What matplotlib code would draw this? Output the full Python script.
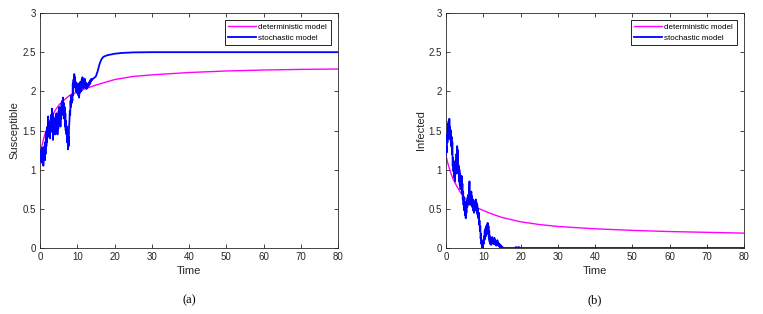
import numpy as np
import matplotlib
matplotlib.use("Agg")
import matplotlib.pyplot as plt

plt.rcParams['font.family'] = ['Liberation Sans', 'DejaVu Sans']

# ---- data ----
# Panel (a): Susceptible
det_S_t = [0, 0.5, 1, 1.5, 2, 3, 4, 5, 6, 7, 8, 10, 12, 15, 20, 25, 30, 40, 50, 60, 70, 80]
det_S = [1.2, 1.3, 1.4, 1.48, 1.55, 1.66, 1.75, 1.82, 1.87, 1.91, 1.95, 1.99, 2.03, 2.08,
         2.15, 2.19, 2.21, 2.24, 2.26, 2.272, 2.28, 2.285]

sto_S_noisy = [
    1.20, 1.12, 1.25, 1.10, 1.22, 1.15, 1.28, 1.08, 1.18, 1.05, 1.22,
    1.15, 1.30, 1.12, 1.35, 1.20, 1.48, 1.30, 1.45, 1.35, 1.55,
    1.42, 1.68, 1.45, 1.60, 1.42, 1.55, 1.40, 1.62, 1.48, 1.70,
    1.55, 1.78, 1.50, 1.72, 1.38, 1.60, 1.45, 1.65, 1.50, 1.58,
    1.45, 1.68, 1.48, 1.72, 1.55, 1.65, 1.45, 1.70, 1.52, 1.75,
    1.60, 1.80, 1.62, 1.72, 1.55, 1.78, 1.65, 1.85, 1.70, 1.88,
    1.75, 1.92, 1.70, 1.85, 1.65, 1.80, 1.55, 1.72, 1.50, 1.62,
    1.45, 1.55, 1.35, 1.50, 1.26, 1.42, 1.30, 1.55, 1.62, 1.75,
    1.70, 1.88, 1.80, 1.95, 1.85, 1.92, 1.88, 2.10, 1.95, 2.15,
    2.05, 2.22, 2.08, 2.18, 2.05, 2.12, 2.00, 2.10, 1.98, 2.08,
    2.02, 2.10, 1.95, 2.05, 1.92, 2.02, 1.98, 2.12, 2.05, 2.08,
    2.00, 2.15, 2.05, 2.18, 2.08, 2.12, 2.04, 2.14, 2.08, 2.16,
    2.06, 2.12, 2.04, 2.10, 2.03, 2.08, 2.05, 2.09, 2.06, 2.10,
    2.07, 2.12, 2.09, 2.13, 2.10, 2.15, 2.13, 2.16, 2.14, 2.15,
]
sto_S_tail_t = [14.5, 15, 15.5, 16, 16.5, 17, 18, 19, 20, 22, 25, 30, 80]
sto_S_tail = [2.17, 2.19, 2.26, 2.35, 2.41, 2.44, 2.46, 2.47, 2.48, 2.49, 2.497, 2.5, 2.5]

# Panel (b): Infected
det_I_t = [0, 0.5, 1, 1.5, 2, 3, 4, 5, 6, 7, 8, 10, 12, 15, 20, 25, 30, 40, 50, 60, 70, 80]
det_I = [1.18, 1.08, 1.0, 0.93, 0.87, 0.78, 0.70, 0.64, 0.59, 0.55, 0.52, 0.48, 0.44, 0.39,
         0.335, 0.30, 0.275, 0.245, 0.225, 0.21, 0.20, 0.19]

sto_I_noisy = [
    1.20, 1.30, 1.22, 1.45, 1.35, 1.58, 1.40, 1.62, 1.50, 1.65, 1.45,
    1.55, 1.38, 1.50, 1.30, 1.42, 1.20, 1.35, 1.05, 1.15, 0.98,
    1.10, 0.90, 1.05, 0.85, 1.00, 1.12, 0.95, 1.20, 1.05, 1.30,
    1.10, 1.25, 0.95, 1.05, 0.85, 1.00, 0.80, 0.95, 0.75, 0.90,
    0.78, 0.92, 0.70, 0.82, 0.62, 0.72, 0.55, 0.65, 0.48, 0.60,
    0.42, 0.55, 0.38, 0.50, 0.45, 0.60, 0.52, 0.65, 0.55, 0.68,
    0.58, 0.75, 0.85, 0.70, 0.55, 0.68, 0.58, 0.72, 0.55, 0.66,
    0.52, 0.62, 0.48, 0.58, 0.45, 0.55, 0.50, 0.60, 0.48, 0.62,
    0.50, 0.58, 0.45, 0.55, 0.42, 0.50, 0.38, 0.45, 0.30, 0.35,
    0.22, 0.28, 0.12, 0.18, 0.05, 0.10, 0.00, 0.05, 0.00, 0.08,
    0.05, 0.15, 0.10, 0.22, 0.12, 0.25, 0.15, 0.28, 0.18, 0.30,
    0.20, 0.32, 0.18, 0.28, 0.12, 0.22, 0.08, 0.15, 0.05, 0.12,
    0.04, 0.10, 0.06, 0.14, 0.08, 0.12, 0.05, 0.11, 0.07, 0.13,
    0.05, 0.10, 0.04, 0.09, 0.03, 0.08, 0.05, 0.10, 0.04, 0.07,
    0.03, 0.06, 0.02, 0.05, 0.01, 0.04, 0.02, 0.03, 0.00, 0.02,
    0.00, 0.01, 0.00, 0.00, 0.00,
]
sto_I_tail_t = [18.5, 18.8, 19.2, 19.5, 20, 80]
sto_I_tail = [0.0, 0.012, 0.0, 0.012, 0.0, 0.0]

x_ticks = [0, 10, 20, 30, 40, 50, 60, 70, 80]
y_ticks = [0, 0.5, 1, 1.5, 2, 2.5, 3]
y_ticklabels = ['0', '0.5', '1', '1.5', '2', '2.5', '3']

DT = 0.1
sto_S_t = list(np.arange(len(sto_S_noisy)) * DT) + sto_S_tail_t
sto_S = sto_S_noisy + sto_S_tail
sto_I_t = list(np.arange(len(sto_I_noisy)) * DT) + sto_I_tail_t
sto_I = sto_I_noisy + sto_I_tail

fig = plt.figure(figsize=(7.63, 3.14), dpi=100)
W, H = 763, 314
axA = fig.add_axes([40 / W, (H - 248) / H, 298 / W, 235 / H])
axB = fig.add_axes([446 / W, (H - 248) / H, 298 / W, 235 / H])

panels = [
    (axA, det_S_t, det_S, sto_S_t, sto_S, 'Susceptible', '(a)'),
    (axB, det_I_t, det_I, sto_I_t, sto_I, 'Infected', '(b)'),
]
for ax, dt_, dv, st, sv, ylab, cap in panels:
    ax.plot(dt_, dv, color='#ff00ff', lw=1.0, label='deterministic model', zorder=2)
    ax.plot(st, sv, color='#0000ff', lw=1.3, label='stochastic model', zorder=3)
    ax.set_xlim(0, 80)
    ax.set_ylim(0, 3)
    ax.set_xticks(x_ticks)
    ax.set_yticks(y_ticks)
    ax.set_yticklabels(y_ticklabels)
    ax.tick_params(direction='in', top=True, right=True, length=3, width=0.6,
                   labelsize=7, colors='#262626', pad=3)
    for sp in ax.spines.values():
        sp.set_linewidth(0.6)
        sp.set_color('#262626')
    ax.set_xlabel('Time', fontsize=8, labelpad=3, color='#262626')
    ax.set_ylabel(ylab, fontsize=8, labelpad=2, color='#262626')
    leg = ax.legend(loc='upper right', bbox_to_anchor=(0.975, 0.97), fontsize=5.8,
                    frameon=True, fancybox=False, edgecolor='black', framealpha=1,
                    borderpad=0.45, labelspacing=0.35, handlelength=3.4,
                    handletextpad=0.3, borderaxespad=0)
    leg.get_frame().set_linewidth(0.6)
    ax.text(0.5, -0.222, cap, transform=ax.transAxes, ha='center', va='center',
            fontsize=9, family=['Liberation Serif', 'DejaVu Serif'])

fig.savefig('out.png', dpi=100)
